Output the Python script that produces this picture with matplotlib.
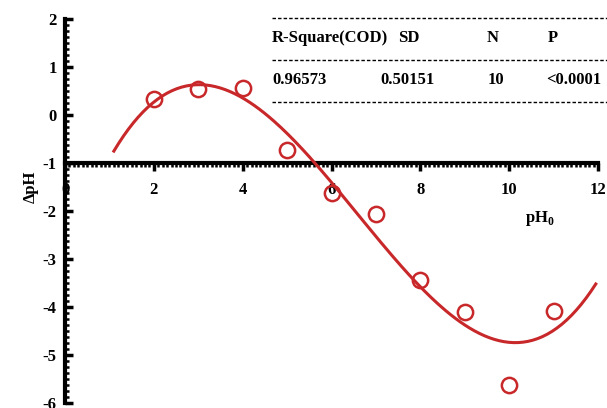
import matplotlib
matplotlib.use('Agg')
import matplotlib.pyplot as plt
from matplotlib.ticker import MultipleLocator
import numpy as np

# data
ph0 = [2, 3, 4, 5, 6, 7, 8, 9, 10, 11]
dph = [0.33, 0.54, 0.56, -0.73, -1.63, -2.06, -3.44, -4.10, -5.63, -4.08]

# fit statistics shown in the table
headers = ['R-Square(COD)', 'SD', 'N', 'P']
values = ['0.96573', '0.50151', '10', '<0.0001']

plt.rcParams['font.family'] = ['Liberation Serif', 'DejaVu Serif']
plt.rcParams['font.weight'] = 'bold'
plt.rcParams['axes.unicode_minus'] = False
plt.rcParams['mathtext.fontset'] = 'custom'
plt.rcParams['mathtext.rm'] = 'Liberation Serif:bold'
plt.rcParams['mathtext.bf'] = 'Liberation Serif:bold'

red = '#c8282a'

fig = plt.figure(figsize=(6.07, 4.08), dpi=100)
ax = fig.add_axes([65/607, 5/408, 533/607, 384/408])

# cubic polynomial fit
coef = np.polyfit(ph0, dph, 3)
xf = np.linspace(1.1, 11.95, 200)
ax.plot(xf, np.polyval(coef, xf), color=red, lw=2.2, zorder=3)
ax.plot(ph0, dph, 'o', ms=11, mfc='none', mec=red, mew=1.8, zorder=4)

ax.set_xlim(0, 12)
ax.set_ylim(-6, 2)
ax.spines['top'].set_visible(False)
ax.spines['right'].set_visible(False)
ax.spines['left'].set_position(('data', 0))
ax.spines['bottom'].set_position(('data', -1))
ax.spines['left'].set_linewidth(3)
ax.spines['bottom'].set_linewidth(3)

ax.xaxis.set_major_locator(MultipleLocator(2))
ax.xaxis.set_minor_locator(MultipleLocator(0.1))
ax.yaxis.set_major_locator(MultipleLocator(1))
ax.yaxis.set_minor_locator(MultipleLocator(0.125))
ax.tick_params(axis='x', which='major', direction='out', length=6, width=2.5, labelsize=12, pad=8)
ax.tick_params(axis='x', which='minor', direction='out', length=3, width=1.8)
ax.tick_params(axis='y', which='major', direction='in', length=6, width=2.5, labelsize=12, pad=6)
ax.tick_params(axis='y', which='minor', direction='in', length=3, width=1.8)
for lab in ax.get_xticklabels() + ax.get_yticklabels():
    lab.set_fontweight('bold')

ax.text(-0.78, -1.5, 'ΔpH', rotation=90, ha='center', va='center', fontsize=12, fontweight='bold')
ax.text(10.7, -2.15, 'pH$_{0}$', ha='center', va='center', fontsize=12, fontweight='bold')

# stats table with dashed rules
for yy in [18, 60, 102]:
    fig.add_artist(plt.Line2D([272/607, 607/607], [1 - yy/408, 1 - yy/408],
                              color='black', lw=1, ls=(0, (2.5, 1.5))))
hx = [272, 398, 487, 548]
vx = [272, 380, 488, 546]
for h, x in zip(headers, hx):
    fig.text(x/607, 1 - 38/408, h, ha='left', va='center', fontsize=12, fontweight='bold')
for v, x in zip(values, vx):
    fig.text(x/607, 1 - 80/408, v, ha='left', va='center', fontsize=12, fontweight='bold')

fig.savefig('out.png', dpi=100)
